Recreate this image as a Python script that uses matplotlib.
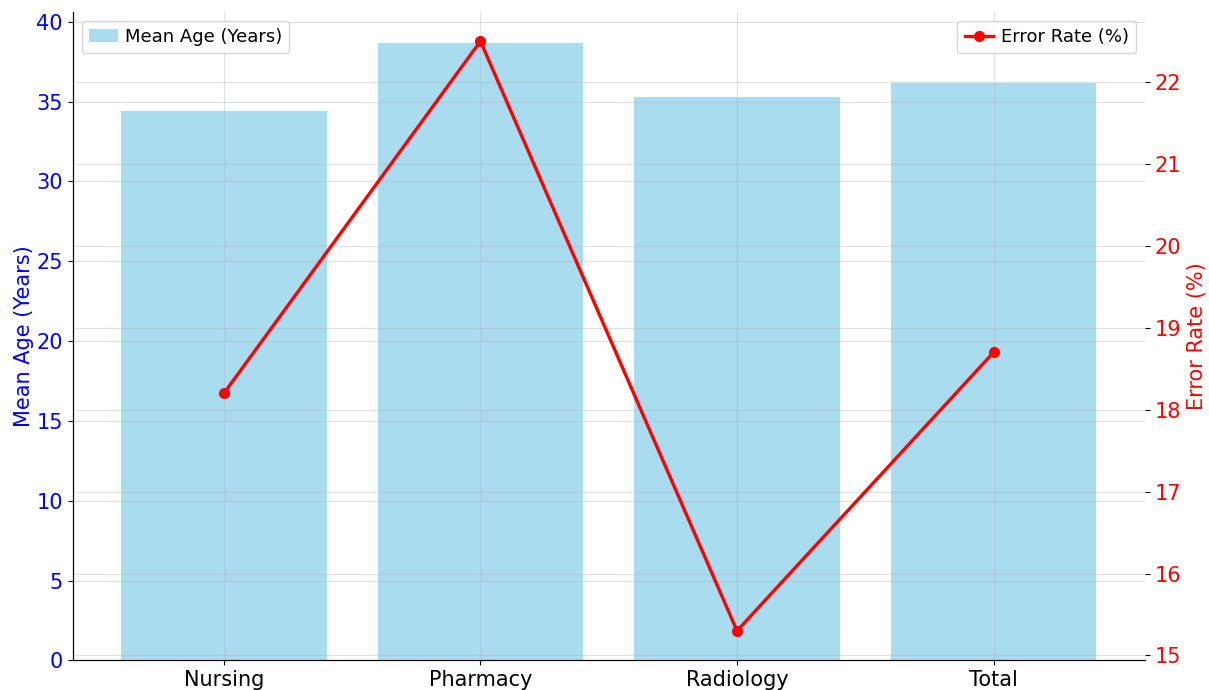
import matplotlib
matplotlib.use("Agg")
from matplotlib import pyplot as plt
import numpy as np

departments = ['Nursing', 'Pharmacy', 'Radiology', 'Total']
mean_age = [34.4, 38.7, 35.3, 36.2]
error_rate = [18.2, 22.5, 15.3, 18.7]

fig, ax1 = plt.subplots(figsize=(12.09, 6.9), dpi=100)
fig.subplots_adjust(left=0.06, right=0.947, bottom=0.043, top=0.983)

x = np.arange(len(departments))

# mean age as bars on the left axis
ax1.bar(x, mean_age, width=0.8, color='skyblue', alpha=0.7, label='Mean Age (Years)')
ax1.set_ylabel('Mean Age (Years)', color='blue', fontsize=15, labelpad=2)
ax1.tick_params(axis='y', labelcolor='blue', labelsize=15)
ax1.tick_params(axis='x', labelsize=15)
ax1.set_xticks(x)
ax1.set_xticklabels(departments)
ax1.grid(True, alpha=0.4)

# error rate as a line on the right axis
ax2 = ax1.twinx()
ax2.plot(x, error_rate, color='red', marker='o', markersize=7, linewidth=2.4, label='Error Rate (%)')
ax2.set_ylabel('Error Rate (%)', color='red', fontsize=15, labelpad=4)
ax2.tick_params(axis='y', labelcolor='red', labelsize=15)
ax2.grid(True, alpha=0.4)

ax1.legend(loc='upper left', fontsize=13, handlelength=1.6, handletextpad=0.4)
ax2.legend(loc='upper right', fontsize=13, handlelength=1.6, handletextpad=0.4)

for ax in (ax1, ax2):
    ax.spines['top'].set_visible(False)
    ax.spines['right'].set_visible(False)

plt.savefig('out.png')
